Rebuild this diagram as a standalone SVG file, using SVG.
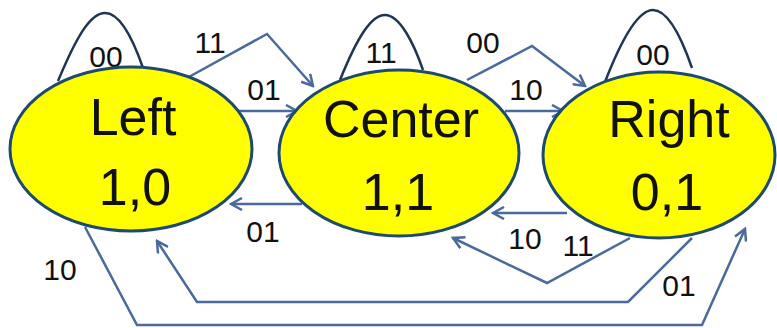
<svg xmlns="http://www.w3.org/2000/svg" width="777" height="328" viewBox="0 0 777 328">
  <style>
    .state ellipse { fill: #ffff00; stroke: #1d4a6e; stroke-width: 3; }
    .state text { font-family: "Liberation Sans", Arial, sans-serif; font-size: 52px; fill: #111; text-anchor: middle; }
    .loop { fill: none; stroke: #1f3556; stroke-width: 2.5; }
    .edge { fill: none; stroke: #4a6a9c; stroke-width: 2.5; marker-end: url(#chev); }
    .lbl { font-family: "Liberation Sans", Arial, sans-serif; font-size: 30px; fill: #111; text-anchor: middle; }
  </style>
  <defs>
    <marker id="chev" viewBox="0 0 14 14" refX="12" refY="7" markerWidth="14" markerHeight="14" markerUnits="userSpaceOnUse" orient="auto">
      <path d="M1,1 L12,7 L1,13" fill="none" stroke="#4a6a9c" stroke-width="2.5" stroke-linejoin="miter"/>
    </marker>
  </defs>
  <rect width="777" height="328" fill="#ffffff"/>

  <g id="connectors">
    <!-- self loops -->
    <path class="loop" d="M58,81 C76,38 90,13 105,13 C121,13 134,42 143,68"/>
    <path class="loop" d="M340,80 C357,38 371,15 385,15 C400,15 414,44 423,70"/>
    <path class="loop" d="M605,82 C622,38 638,10 653,10 C669,10 683,42 692,68"/>
    <text class="lbl" x="106" y="67">00</text>
    <text class="lbl" x="381" y="63">11</text>
    <text class="lbl" x="653" y="65">00</text>

    <!-- Left to Center -->
    <path class="edge" d="M187,78 L267,34 L313,86"/>
    <text class="lbl" x="210" y="53">11</text>
    <path class="edge" d="M237,111 L297,111"/>
    <text class="lbl" x="264" y="100">01</text>

    <!-- Center to Right -->
    <path class="edge" d="M467,80 L532,46 L585,86"/>
    <text class="lbl" x="483" y="53">00</text>
    <path class="edge" d="M505,111 L563,111"/>
    <text class="lbl" x="526" y="100">10</text>

    <!-- Center to Left -->
    <path class="edge" d="M302,204 L231,204"/>
    <text class="lbl" x="263" y="242">01</text>

    <!-- Right to Center -->
    <path class="edge" d="M567,213 L493,213"/>
    <text class="lbl" x="525" y="249">10</text>
    <path class="edge" d="M630,238 L547,283 L453,238"/>
    <text class="lbl" x="578" y="256">11</text>

    <!-- Right to Left -->
    <path class="edge" d="M692,238 L628,302 L197,302 L157,241"/>
    <text class="lbl" x="679" y="296">01</text>

    <!-- Left to Right -->
    <path class="edge" d="M85,227 L137,325 L702,325 L745,229"/>
    <text class="lbl" x="60" y="280">10</text>
  </g>

  <g id="left" class="state">
    <ellipse cx="131" cy="149" rx="121" ry="82"/>
    <text x="133" y="135">Left</text>
    <text x="135" y="205">1,0</text>
  </g>
  <g id="center" class="state">
    <ellipse cx="399" cy="153" rx="120" ry="83"/>
    <text x="401" y="137">Center</text>
    <text x="398" y="210">1,1</text>
  </g>
  <g id="right" class="state">
    <ellipse cx="659" cy="155" rx="116" ry="83"/>
    <text x="669" y="137">Right</text>
    <text x="667" y="210">0,1</text>
  </g>
</svg>
